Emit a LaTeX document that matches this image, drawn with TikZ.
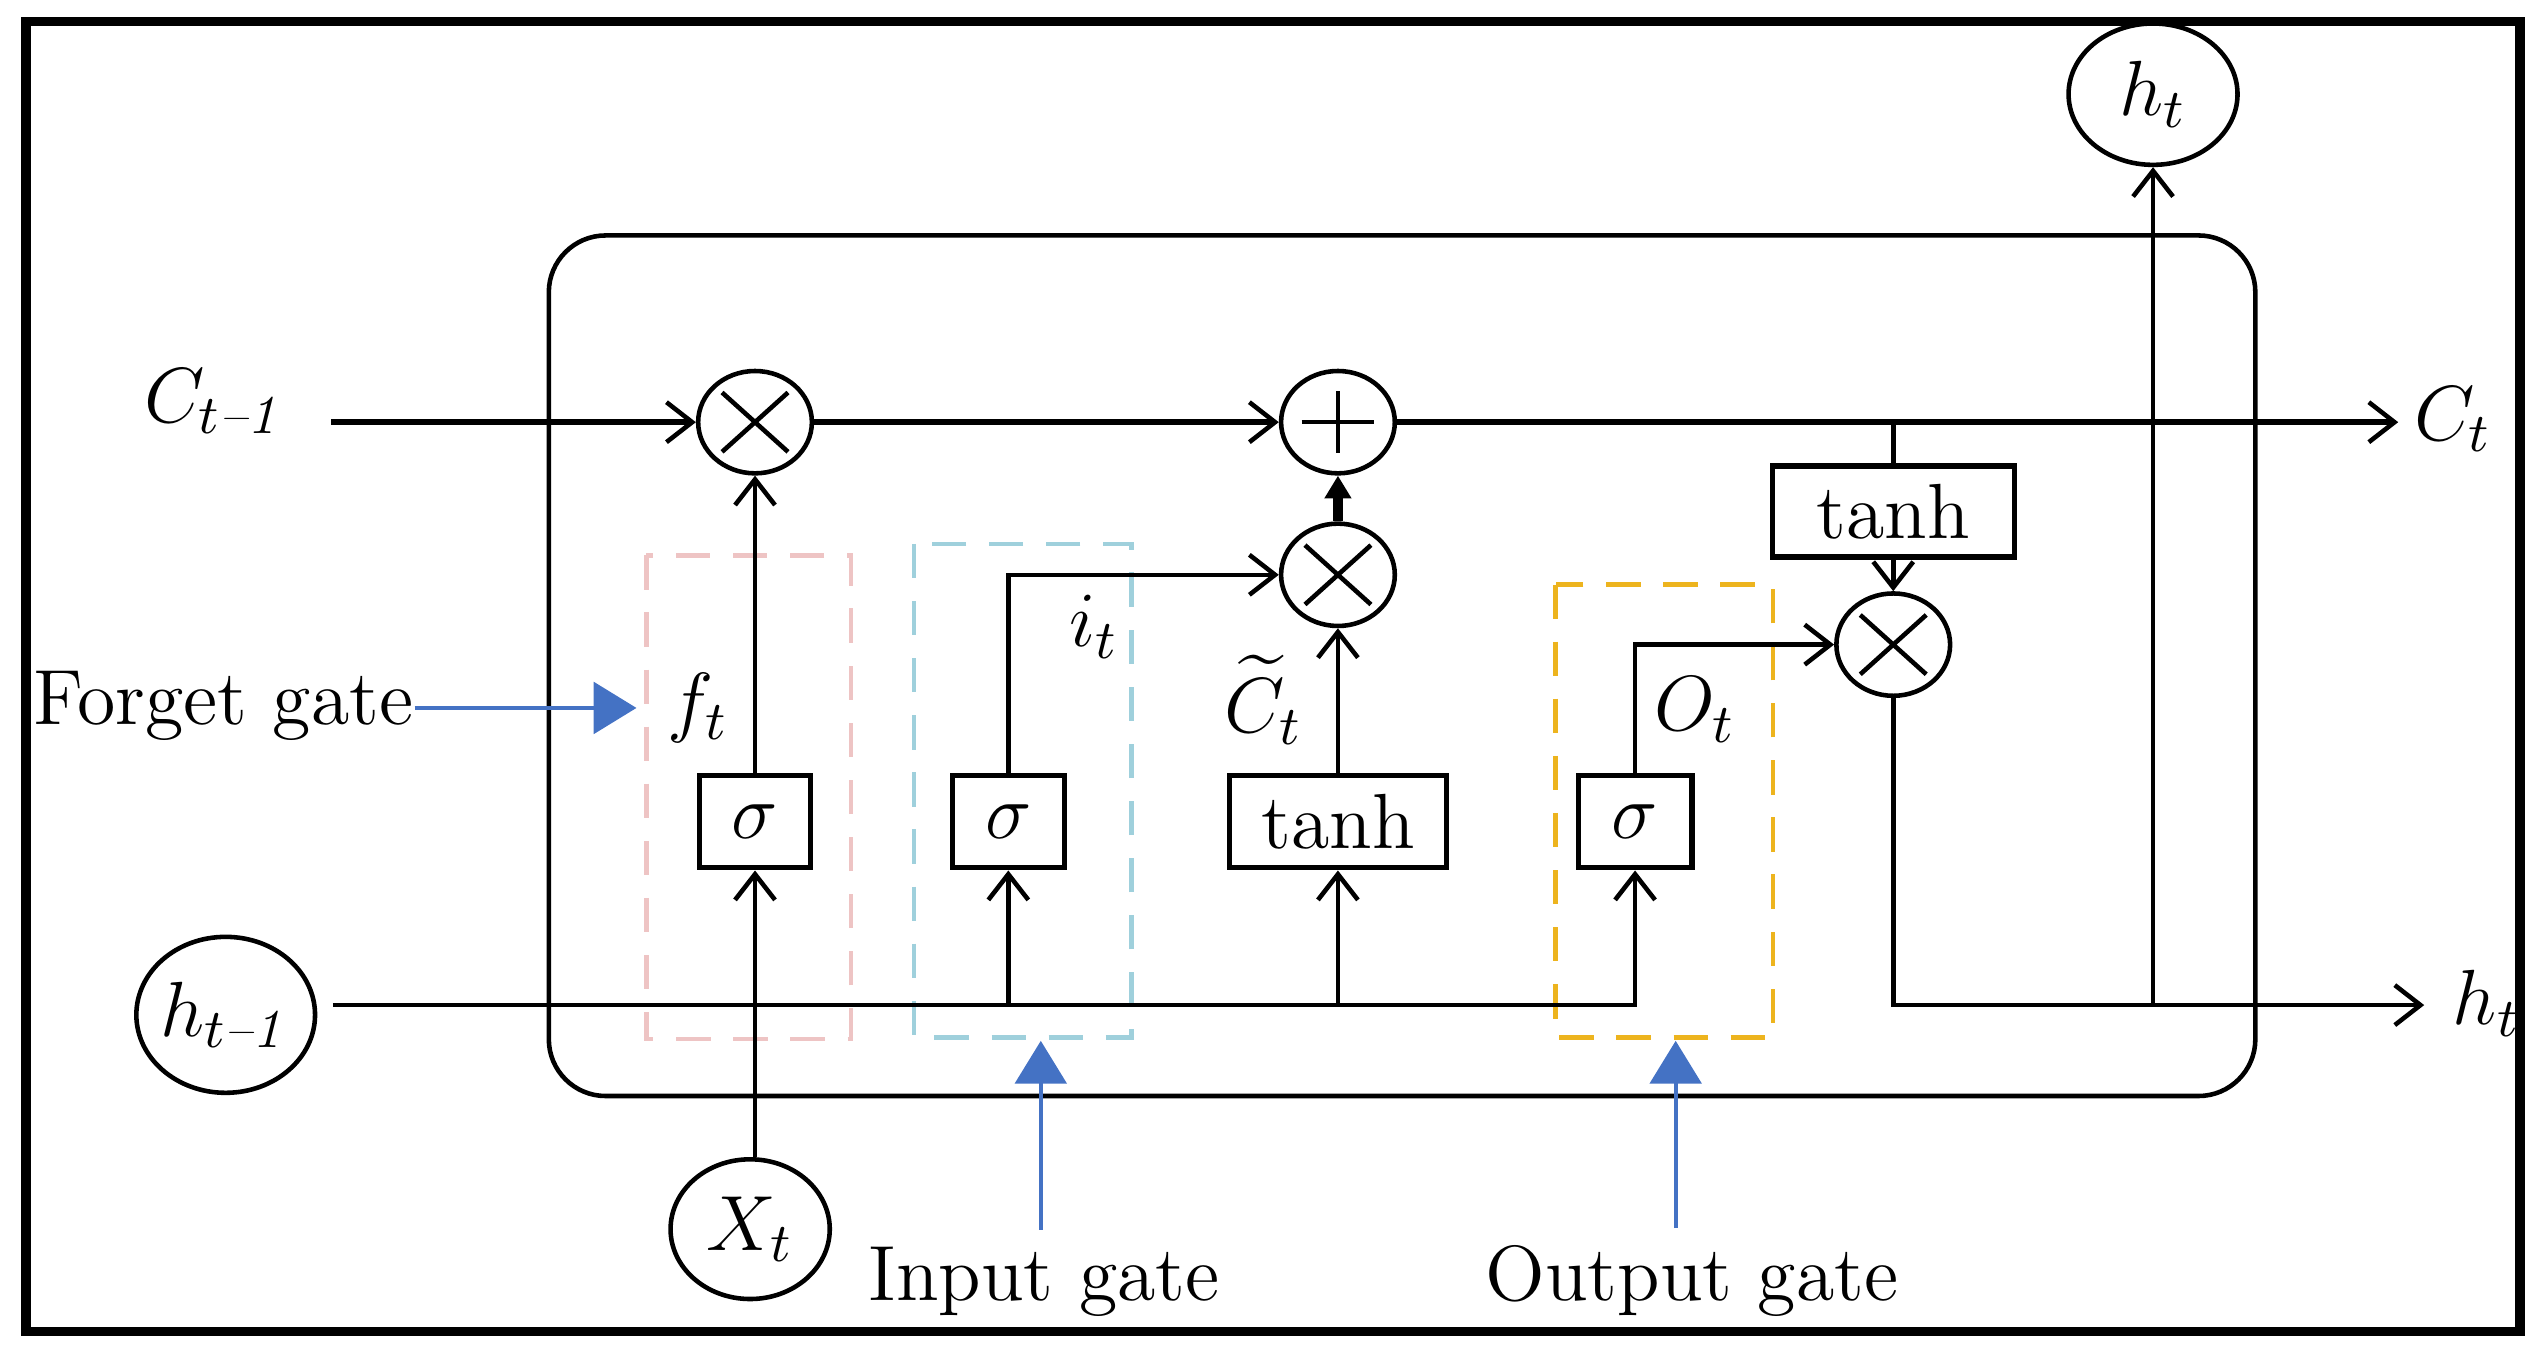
\documentclass[tikz,border=0pt]{standalone}
\usepackage{fix-cm}
\usepackage{amsmath}
\usetikzlibrary{arrows.meta,shapes.geometric,calc}
\definecolor{gateblue}{HTML}{4472C4}
\definecolor{fpink}{HTML}{EEC4C4}
\definecolor{icyan}{HTML}{9FD0DC}
\definecolor{oyellow}{HTML}{EDB41E}
\newcommand{\tmo}{t\textit{--}\mathit{1}}
\begin{document}
\begin{tikzpicture}[x=0.01cm,y=-0.01cm,
  txt/.style={font=\fontsize{13.7}{16}\selectfont, inner sep=0pt},
  ln/.style={line width=0.8pt},
  cellw/.style={line width=1pt},
  arr/.style={ln,-{Straight Barb[length=4.5pt,width=7pt,line width=0.8pt]}},
  carr/.style={cellw,-{Straight Barb[length=4.5pt,width=7pt,line width=0.8pt]}},
  thickarr/.style={line width=1.6pt,-{Triangle[length=4pt,width=4.5pt]}},
  barrow/.style={gateblue,line width=0.75pt,-{Triangle[length=7.5pt,width=9pt]}},
  dbox/.style={line width=0.8pt,dash pattern=on 6pt off 4pt},
  var/.style={ellipse,draw,line width=0.8pt,inner sep=0pt,font=\fontsize{13.7}{16}\selectfont},
  opm/.style={ellipse,draw,line width=0.8pt,inner sep=0pt,minimum width=0.70cm,minimum height=0.63cm,
    path picture={
      \draw[line width=0.8pt] ($(path picture bounding box.north west)!0.21!(path picture bounding box.south east)$) -- ($(path picture bounding box.north west)!0.79!(path picture bounding box.south east)$);
      \draw[line width=0.8pt] ($(path picture bounding box.north east)!0.21!(path picture bounding box.south west)$) -- ($(path picture bounding box.north east)!0.79!(path picture bounding box.south west)$);}},
  opp/.style={ellipse,draw,line width=0.8pt,inner sep=0pt,minimum width=0.70cm,minimum height=0.63cm,
    path picture={
      \draw[line width=0.8pt] ($(path picture bounding box.west)!0.18!(path picture bounding box.east)$) -- ($(path picture bounding box.west)!0.82!(path picture bounding box.east)$);
      \draw[line width=0.8pt] ($(path picture bounding box.north)!0.2!(path picture bounding box.south)$) -- ($(path picture bounding box.north)!0.8!(path picture bounding box.south)$);}},
  fbox/.style={rectangle,draw,line width=0.9pt,inner sep=0pt,minimum height=0.57cm,font=\fontsize{13.7}{16}\selectfont}
]
\useasboundingbox (0,0) rectangle (1568,842);
% outer frame
\draw[line width=1.6pt] (16,13) rectangle (1552,820);
% cell
\draw[line width=0.8pt,rounded corners=0.35cm] (338,145) rectangle (1389,675);
% gate boxes
\draw[dbox,fpink] (398,342) rectangle (524,640);
\draw[dbox,icyan] (563,335) rectangle (697,639);
\draw[dbox,oyellow] (958,360) rectangle (1092,639);

% operators
\node[opm] (m1) at (465,260) {};
\node[opp] (plus) at (824,260) {};
\node[opm] (m2) at (824,354) {};
\node[opm] (m3) at (1166,397) {};
% function boxes
\node[fbox,minimum width=0.68cm] (s1) at (465,506) {$\sigma$};
\node[fbox,minimum width=0.69cm] (s2) at (621,506) {$\sigma$};
\node[fbox,minimum width=1.34cm] (tanh1) at (824,506) {tanh};
\node[fbox,minimum width=0.70cm] (s3) at (1007,506) {$\sigma$};
\node[fbox,minimum width=1.49cm,minimum height=0.56cm] (tanh2) at (1166,315) {tanh};
% variables in ellipses
\node[var,minimum width=1.04cm,minimum height=0.87cm] (htop) at (1326,58) {$h_t$};
\node[var,inner xsep=-0.2cm,minimum width=1.10cm,minimum height=0.96cm] (hprev) at (139,625) {$h_{\tmo}$};
\node[var,minimum width=0.98cm,minimum height=0.86cm] (xt) at (462,757) {$X_t$};
% labels
\node[txt,anchor=base west] (cprev) at (88,260) {$C_{\tmo}$};
\node[txt,anchor=base west] (ct) at (1486,271) {$C_t$};
\node[txt,anchor=base west] (hnext) at (1510,631) {$h_t$};
\node[txt] (ft) at (430,436) {$f_t$};
\node[txt] (it) at (674,386) {$i_t$};
\node[txt] (ctil) at (778,431) {$\widetilde{C}_t$};
\node[txt] (ot) at (1044,437) {$O_t$};
\node[txt,anchor=base west] (forget) at (20,446) {Forget gate};
\node[txt,anchor=base] (input) at (643,801) {Input gate};
\node[txt,anchor=base] (output) at (1042,801) {Output gate};

% named free ends
\coordinate (cstart) at (204,260);
\coordinate (ctip) at (1477,260);
\coordinate (j1) at (1166,260);
\coordinate (hstart) at (205,619);
\coordinate (htip) at (1493,619);
\coordinate (hjoin) at (1326,619);
\coordinate (j2) at (621,619);
\coordinate (j3) at (824,619);
\coordinate (fgtip) at (392,436);
\coordinate (intip) at (641,641);
\coordinate (outtip) at (1032,641);

% cell state line
\draw[carr] (cstart) -- (m1);
\draw[carr] (m1) -- (plus);
\draw[carr] (plus) -- (ctip);
\draw[ln] (j1) -- (tanh2.north);
\draw[arr] (tanh2.south) -- (m3.north);
\draw[arr] (m3.south) |- (htip);
\draw[arr] (hjoin) -- (htop.south);
% hidden state line
\draw[arr] (hstart) -| (s3.south);
\draw[arr] (j2) -- (s2.south);
\draw[arr] (j3) -- (tanh1.south);
\draw[arr] (xt.north -| s1.south) -- (s1.south);
% gate outputs
\draw[arr] (s1.north) -- (m1.south);
\draw[arr] (s2.north) |- (m2.west);
\draw[arr] (tanh1.north) -- (m2.south);
\draw[thickarr] (m2.north) -- (plus.south);
\draw[arr] (s3.north) |- (m3.west);
% gate annotations
\draw[barrow] (fgtip -| forget.east) -- (fgtip);
\draw[barrow,shorten <=0.1cm] (intip |- input.north) -- (intip);
\draw[barrow,shorten <=0.1cm] (outtip |- output.north) -- (outtip);
\end{tikzpicture}
\end{document}
